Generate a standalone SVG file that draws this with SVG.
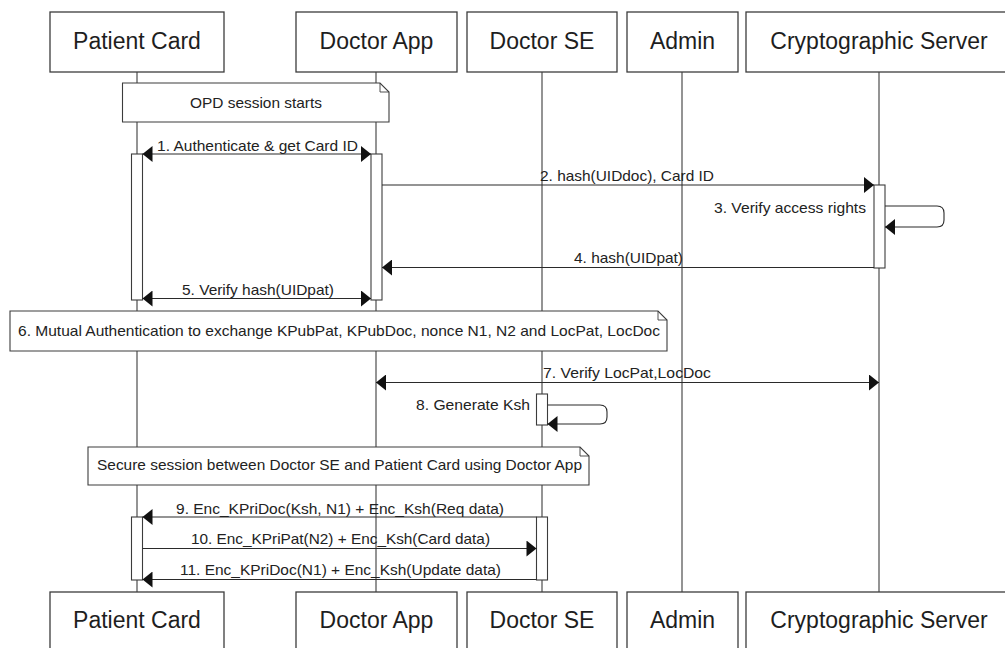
<svg xmlns="http://www.w3.org/2000/svg" width="1005" height="648" viewBox="0 0 1005 648">
  <style>
    .box { fill: #fff; stroke: #3c3c3c; stroke-width: 1.3; }
    .life { stroke: #3c3c3c; stroke-width: 1.1; fill: none; }
    .act { fill: #fff; stroke: #3c3c3c; stroke-width: 1.1; }
    .msg { stroke: #2a2a2a; stroke-width: 1.1; fill: none; }
    .note { fill: #fff; stroke: #3c3c3c; stroke-width: 1.1; }
    .fold { fill: none; stroke: #3c3c3c; stroke-width: 0.9; }
    .head { font-family: "Liberation Sans", Arial, sans-serif; font-size: 23px; fill: #1e1e1e; text-anchor: middle; }
    .lbl { font-family: "Liberation Sans", Arial, sans-serif; font-size: 15px; fill: #222; }
  </style>
  <defs>
    <marker id="arrow" markerUnits="userSpaceOnUse" markerWidth="11" markerHeight="16" viewBox="0 0 10 16" refX="10" refY="8" orient="auto-start-reverse">
      <path d="M0,0 L10,8 L0,16 Z" fill="#111"/>
    </marker>
  </defs>

  <rect width="1005" height="648" fill="#fff"/>

  <!-- lifelines -->
  <g id="lifelines">
    <line class="life" x1="137" y1="72" x2="137" y2="592"/>
    <line class="life" x1="376" y1="72" x2="376" y2="592"/>
    <line class="life" x1="542" y1="72" x2="542" y2="592"/>
    <line class="life" x1="682" y1="72" x2="682" y2="592"/>
    <line class="life" x1="879" y1="72" x2="879" y2="592"/>
  </g>

  <!-- participants (top) -->
  <g id="patient-card-top">
    <rect class="box" x="50" y="12" width="174" height="60"/>
    <text class="head" x="137" y="48.5">Patient Card</text>
  </g>
  <g id="doctor-app-top">
    <rect class="box" x="296" y="12" width="161" height="60"/>
    <text class="head" x="376.5" y="48.5">Doctor App</text>
  </g>
  <g id="doctor-se-top">
    <rect class="box" x="467" y="12" width="150" height="60"/>
    <text class="head" x="542" y="48.5">Doctor SE</text>
  </g>
  <g id="admin-top">
    <rect class="box" x="627" y="12" width="111" height="60"/>
    <text class="head" x="682.5" y="48.5">Admin</text>
  </g>
  <g id="crypto-server-top">
    <rect class="box" x="746" y="12" width="266" height="60"/>
    <text class="head" x="879" y="48.5">Cryptographic Server</text>
  </g>

  <!-- participants (bottom) -->
  <g id="patient-card-bottom">
    <rect class="box" x="50" y="592" width="174" height="62"/>
    <text class="head" x="137" y="627.5">Patient Card</text>
  </g>
  <g id="doctor-app-bottom">
    <rect class="box" x="296" y="592" width="161" height="62"/>
    <text class="head" x="376.5" y="627.5">Doctor App</text>
  </g>
  <g id="doctor-se-bottom">
    <rect class="box" x="467" y="592" width="150" height="62"/>
    <text class="head" x="542" y="627.5">Doctor SE</text>
  </g>
  <g id="admin-bottom">
    <rect class="box" x="627" y="592" width="111" height="62"/>
    <text class="head" x="682.5" y="627.5">Admin</text>
  </g>
  <g id="crypto-server-bottom">
    <rect class="box" x="746" y="592" width="266" height="62"/>
    <text class="head" x="879" y="627.5">Cryptographic Server</text>
  </g>

  <!-- notes -->
  <g id="note-opd">
    <path class="note" d="M122.5,83 H380 L389,92 V122 H122.5 Z"/>
    <path class="fold" d="M380,83 V92 H389"/>
    <text class="lbl" x="190" y="107.5" textLength="132" lengthAdjust="spacingAndGlyphs">OPD session starts</text>
  </g>
  <g id="note-mutual-auth">
    <path class="note" d="M10,311 H658 L667,320 V351 H10 Z"/>
    <path class="fold" d="M658,311 V320 H667"/>
    <text class="lbl" x="18" y="336" textLength="642" lengthAdjust="spacingAndGlyphs">6. Mutual Authentication to exchange KPubPat, KPubDoc, nonce N1, N2 and LocPat, LocDoc</text>
  </g>
  <g id="note-secure-session">
    <path class="note" d="M88,447 H580 L589,456 V485 H88 Z"/>
    <path class="fold" d="M580,447 V456 H589"/>
    <text class="lbl" x="97" y="470" textLength="485" lengthAdjust="spacingAndGlyphs">Secure session between Doctor SE and Patient Card using Doctor App</text>
  </g>

  <!-- activation bars -->
  <g id="activations">
    <rect class="act" x="131.5" y="154" width="11" height="146"/>
    <rect class="act" x="371" y="154" width="11" height="146"/>
    <rect class="act" x="874" y="185" width="11" height="83"/>
    <rect class="act" x="536.5" y="394" width="11" height="31"/>
    <rect class="act" x="131.5" y="517" width="11" height="63"/>
    <rect class="act" x="536.5" y="517" width="11" height="63"/>
  </g>

  <!-- messages -->
  <g id="connectors">
    <line class="msg" x1="142.5" y1="154" x2="371" y2="154" marker-start="url(#arrow)" marker-end="url(#arrow)"/>
    <text class="lbl" x="157" y="150.5" textLength="201" lengthAdjust="spacingAndGlyphs">1. Authenticate &amp; get Card ID</text>

    <line class="msg" x1="382" y1="185" x2="874" y2="185" marker-end="url(#arrow)"/>
    <text class="lbl" x="540" y="180.5" textLength="174" lengthAdjust="spacingAndGlyphs">2. hash(UIDdoc), Card ID</text>

    <path class="msg" d="M885,206 H937 Q944,206 944,213 V220 Q944,227 937,227 H885" marker-end="url(#arrow)"/>
    <text class="lbl" x="714" y="213" textLength="152" lengthAdjust="spacingAndGlyphs">3. Verify access rights</text>

    <line class="msg" x1="874" y1="267.5" x2="382" y2="267.5" marker-end="url(#arrow)"/>
    <text class="lbl" x="574" y="263" textLength="109" lengthAdjust="spacingAndGlyphs">4. hash(UIDpat)</text>

    <line class="msg" x1="142.5" y1="298.5" x2="371" y2="298.5" marker-start="url(#arrow)" marker-end="url(#arrow)"/>
    <text class="lbl" x="182" y="294.5" textLength="152" lengthAdjust="spacingAndGlyphs">5. Verify hash(UIDpat)</text>

    <line class="msg" x1="376" y1="382.5" x2="879" y2="382.5" marker-start="url(#arrow)" marker-end="url(#arrow)"/>
    <text class="lbl" x="543" y="377.5" textLength="168" lengthAdjust="spacingAndGlyphs">7. Verify LocPat,LocDoc</text>

    <path class="msg" d="M547.5,405 H600 Q607,405 607,412 V417 Q607,424 600,424 H547.5" marker-end="url(#arrow)"/>
    <text class="lbl" x="416" y="409.5" textLength="114" lengthAdjust="spacingAndGlyphs">8. Generate Ksh</text>

    <line class="msg" x1="536.5" y1="517" x2="142.5" y2="517" marker-end="url(#arrow)"/>
    <text class="lbl" x="176" y="513.5" textLength="328" lengthAdjust="spacingAndGlyphs">9. Enc_KPriDoc(Ksh, N1) + Enc_Ksh(Req data)</text>

    <line class="msg" x1="142.5" y1="548.5" x2="536.5" y2="548.5" marker-end="url(#arrow)"/>
    <text class="lbl" x="191" y="544" textLength="299" lengthAdjust="spacingAndGlyphs">10. Enc_KPriPat(N2) + Enc_Ksh(Card data)</text>

    <line class="msg" x1="536.5" y1="579.5" x2="142.5" y2="579.5" marker-end="url(#arrow)"/>
    <text class="lbl" x="180" y="575" textLength="321" lengthAdjust="spacingAndGlyphs">11. Enc_KPriDoc(N1) + Enc_Ksh(Update data)</text>
  </g>
</svg>
